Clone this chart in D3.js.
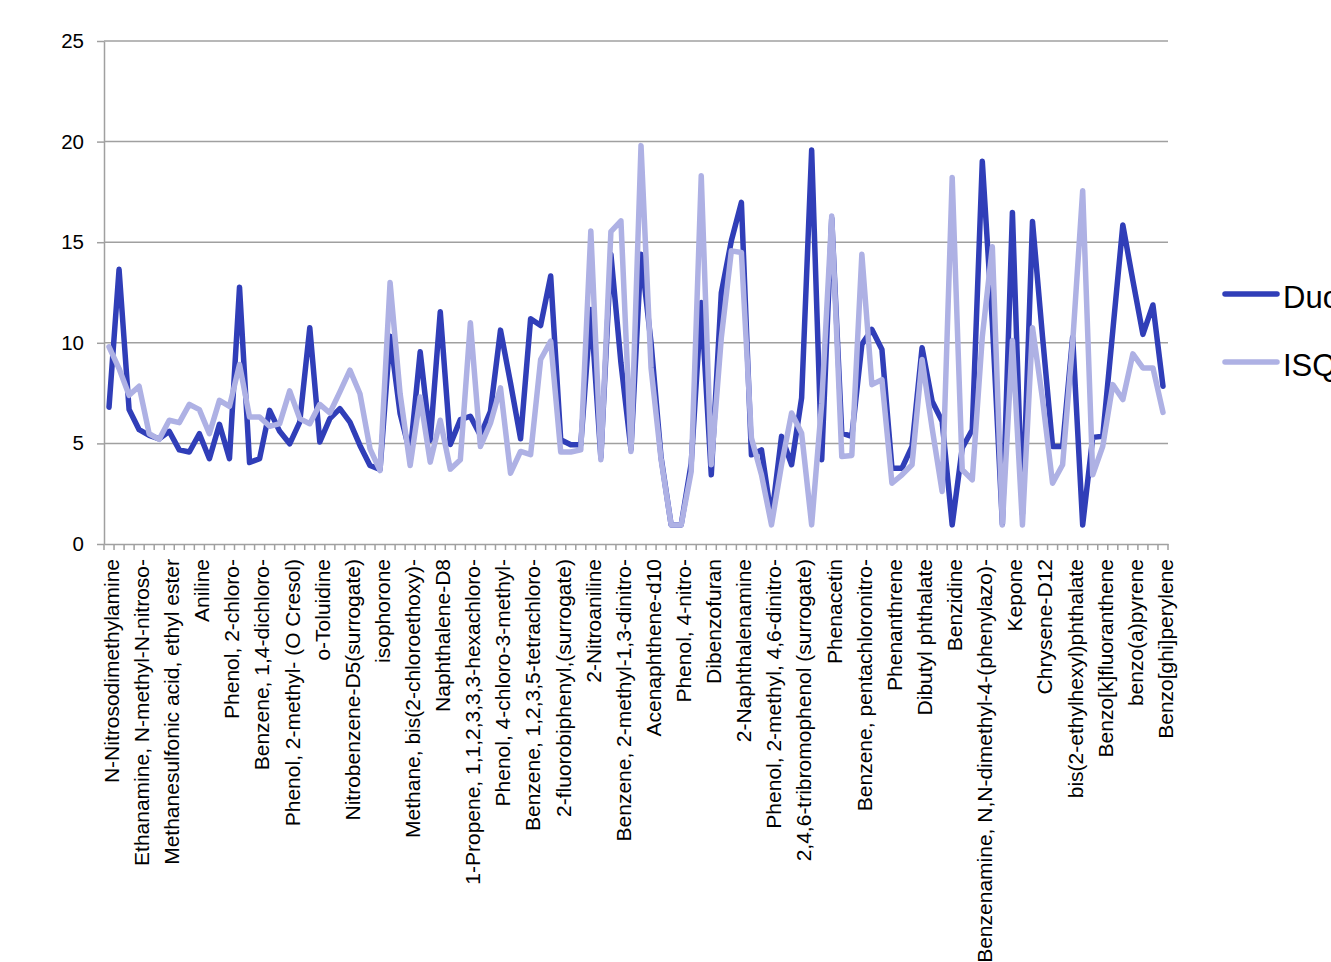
<!DOCTYPE html>
<html>
<head>
<meta charset="utf-8">
<script src="https://cdn.jsdelivr.net/npm/d3@7"></script>
<style>
  body { margin: 0; background: #fff; overflow: hidden; }
  svg { display: block; font-family: "Liberation Sans", Arial, sans-serif; }
</style>
</head>
<body>
<svg width="1331" height="962"></svg>
<script>
// compounds in run order, only every third one gets a label on the axis
var compounds = [
  "N-Nitrosodimethylamine", "Pyridine", "Methanesulfonic acid, methyl ester",
  "Ethanamine, N-methyl-N-nitroso-", "Pyridine, 2-methyl-", "Ethanamine, N-ethyl-N-nitroso-",
  "Methanesulfonic acid, ethyl ester", "Phenol-d6 (surrogate)", "Phenol",
  "Aniline", "Ethane, 1,1'-oxybis[2-chloro-", "2-Fluorophenol (surrogate)",
  "Phenol, 2-chloro-", "Benzene, 1,3-dichloro-", "Benzene-d4, 1,4-dichloro-",
  "Benzene, 1,4-dichloro-", "Benzyl alcohol", "Benzene, 1,2-dichloro-",
  "Phenol, 2-methyl- (O Cresol)", "Propane, 2,2'-oxybis[1-chloro-", "Acetophenone",
  "o-Toluidine", "Phenol, 3-methyl-", "N-Nitrosodi-n-propylamine",
  "Nitrobenzene-D5(surrogate)", "Ethane, hexachloro-", "Benzene, nitro-",
  "isophorone", "Phenol, 2-nitro-", "Phenol, 2,4-dimethyl-",
  "Methane, bis(2-chloroethoxy)-", "Phenol, 2,4-dichloro-", "Benzene, 1,2,4-trichloro-",
  "Naphthalene-D8", "Naphthalene", "Benzenamine, 4-chloro-",
  "1-Propene, 1,1,2,3,3,3-hexachloro-", "1,3-Butadiene, 1,1,2,3,4,4-hexachloro-", "Piperidine, 1-nitroso-",
  "Phenol, 4-chloro-3-methyl-", "Naphthalene, 2-methyl-", "Naphthalene, 1-methyl-",
  "Benzene, 1,2,3,5-tetrachloro-", "Hexachlorocyclopentadiene", "Phenol, 2,4,6-trichloro-",
  "2-fluorobiphenyl,(surrogate)", "Phenol, 2,4,5-trichloro-", "Naphthalene, 2-chloro-",
  "2-Nitroaniline", "Dimethyl phthalate", "Acenaphthylene",
  "Benzene, 2-methyl-1,3-dinitro-", "3-Nitroaniline", "Acenaphthene",
  "Acenaphthene-d10", "Phenol, 2,4-dinitro-", "Pentachlorobenzene",
  "Phenol, 4-nitro-", "Benzene, 1-methyl-2,4-dinitro-", "1-Naphthalenamine",
  "Dibenzofuran", "Phenol, 2,3,4,6-tetrachloro-", "Diethyl phthalate",
  "2-Naphthalenamine", "Fluorene", "4-Nitroaniline",
  "Phenol, 2-methyl, 4,6-dinitro-", "Diphenylamine", "Azobenzene",
  "2,4,6-tribromophenol (surrogate)", "Benzene, 1-bromo-4-phenoxy-", "Benzene, hexachloro-",
  "Phenacetin", "4-Aminobiphenyl", "Phenol, pentachloro-",
  "Benzene, pentachloronitro-", "Pronamide", "Phenanthrene-d10",
  "Phenanthrene", "Anthracene", "Carbazole",
  "Dibutyl phthalate", "Fluoranthene", "Pyrene",
  "Benzidine", "p-Terphenyl-d14 (surrogate)", "Butyl benzyl phthalate",
  "Benzenamine, N,N-dimethyl-4-(phenylazo)-", "3,3'-Dimethylbenzidine", "Benz[a]anthracene",
  "Kepone", "Chrysene", "3,3'-Dichlorobenzidine",
  "Chrysene-D12", "7,12-Dimethylbenz[a]anthracene", "Di-n-octyl phthalate",
  "bis(2-ethylhexyl)phthalate", "Benzo[b]fluoranthene", "3-Methylcholanthrene",
  "Benzo[k]fluoranthene", "Perylene-d12", "Indeno[1,2,3-cd]pyrene",
  "benzo(a)pyrene", "Dibenz[a,h]anthracene", "Dibenz[a,j]acridine",
  "Benzo[ghi]perylene"
];

var duoValues = [
  6.8, 13.65, 6.68, 5.68, 5.40, 5.23, 5.60, 4.68, 4.57, 5.48,
  4.24, 5.95, 4.24, 12.76, 4.05, 4.24, 6.64, 5.60, 4.98, 6.06,
  10.75, 5.07, 6.23, 6.73, 6.06, 4.90, 3.90, 3.70, 10.33, 6.48,
  4.50, 9.55, 5.15, 11.54, 4.95, 6.18, 6.35, 5.40, 6.60, 10.63,
  8.0, 5.23, 11.2, 10.86, 13.32, 5.18, 4.93, 4.93, 11.66, 4.3,
  14.4, 9.0, 4.7, 14.4, 10.0, 4.3, 0.95, 0.95, 4.0, 12.0,
  3.44, 12.49, 15.07, 16.98, 4.43, 4.68, 1.28, 5.35, 3.94, 7.26,
  19.58, 4.19, 16.2, 5.51, 5.35, 9.92, 10.66, 9.67, 3.77, 3.77,
  4.85, 9.75, 7.09, 6.10, 0.95, 4.77, 5.68, 19.02, 11.0, 1.0,
  16.48, 1.5, 16.03, 10.3, 4.85, 4.85, 10.28, 0.95, 5.3, 5.35,
  10.6, 15.85, 13.1, 10.42, 11.88, 7.84
];

var isqValues = [
  9.80, 8.72, 7.39, 7.84, 5.48, 5.20, 6.15, 6.03, 6.94, 6.68,
  5.48, 7.14, 6.84, 8.92, 6.31, 6.31, 5.85, 5.98, 7.61, 6.23,
  5.98, 6.94, 6.51, 7.56, 8.64, 7.47, 4.73, 3.65, 13.0, 7.47,
  3.90, 7.31, 4.07, 6.15, 3.72, 4.19, 11.0, 4.85, 6.0, 7.76,
  3.52, 4.60, 4.44, 9.17, 10.08, 4.57, 4.57, 4.68, 15.56, 4.19,
  15.53, 16.06, 4.6, 19.8, 8.75, 4.19, 0.95, 0.95, 3.6, 18.3,
  3.94, 10.25, 14.57, 14.49, 5.27, 3.44, 0.95, 3.94, 6.51, 5.5,
  0.95, 7.0, 16.3, 4.35, 4.40, 14.40, 7.92, 8.17, 3.02, 3.44,
  3.94, 9.17, 5.76, 2.61, 18.22, 3.69, 3.19, 10.3, 14.77, 0.95,
  10.12, 0.95, 10.75, 7.2, 3.02, 3.94, 10.0, 17.56, 3.44, 4.85,
  7.92, 7.18, 9.45, 8.75, 8.75, 6.54
];

var seriesNames = ["Duo", "ISQ"];
var seriesColors = ["#303eb8", "#aeb1e4"];
var yTicks = [0, 5, 10, 15, 20, 25];

var svg = d3.select("svg");
var plotLeft = 104, plotRight = 1168, plotTop = 41, plotBottom = 544;
var grey = "#a0a0a0";

var xScale = d3.scaleBand().domain(compounds).range([plotLeft, plotRight]);
var yScale = d3.scaleLinear().domain([0, 25]).range([plotBottom, plotTop]);

// horizontal gridlines
svg.append("g").selectAll("line").data(yTicks.filter(d => d > 0)).join("line")
    .attr("x1", plotLeft).attr("x2", plotRight)
    .attr("y1", d => yScale(d)).attr("y2", d => yScale(d))
    .attr("stroke", grey).attr("stroke-width", 1.5);

// y axis
var yAxis = svg.append("g")
    .attr("transform", "translate(" + plotLeft + ",0)")
    .call(d3.axisLeft(yScale).tickValues(yTicks).tickSize(7).tickSizeOuter(0).tickPadding(13));
yAxis.selectAll("path, line").attr("stroke", grey).attr("stroke-width", 1.5);
yAxis.selectAll("text").attr("font-size", 20.5).attr("fill", "#000")
    .attr("font-family", "'Liberation Sans', Arial, sans-serif");

// x axis: labels on every third compound, ticks on category edges
var xAxis = svg.append("g")
    .attr("transform", "translate(0," + plotBottom + ")")
    .call(d3.axisBottom(xScale).tickSize(0).tickSizeOuter(0)
      .tickFormat((d, i) => i % 3 === 0 ? d : ""));
xAxis.select(".domain").attr("stroke", grey).attr("stroke-width", 1.5);
xAxis.selectAll("text")
    .attr("font-size", 21).attr("fill", "#000")
    .attr("font-family", "'Liberation Sans', Arial, sans-serif")
    .attr("text-anchor", "end")
    .attr("transform", "translate(2.5,15) rotate(-90)")
    .attr("x", 0).attr("y", 0).attr("dy", "0.35em");

var edges = compounds.map(d => xScale(d)).concat([plotRight]);
svg.append("g").selectAll("line").data(edges).join("line")
    .attr("x1", d => d).attr("x2", d => d)
    .attr("y1", plotBottom).attr("y2", plotBottom + 6)
    .attr("stroke", grey).attr("stroke-width", 1.5);

// lines
var line = d3.line()
    .x((d, i) => xScale(compounds[i]) + xScale.bandwidth() / 2)
    .y(d => yScale(d));

[duoValues, isqValues].forEach(function(values, k) {
  svg.append("path")
      .datum(values)
      .attr("fill", "none")
      .attr("stroke", seriesColors[k])
      .attr("stroke-width", 5.5)
      .attr("stroke-linejoin", "round")
      .attr("stroke-linecap", "round")
      .attr("d", line);
});

// legend
var legend = svg.append("g").selectAll("g").data(seriesNames).join("g")
    .attr("transform", (d, i) => "translate(1225," + (294 + i * 68) + ")");
legend.append("line")
    .attr("x1", 0).attr("x2", 52)
    .attr("stroke", (d, i) => seriesColors[i])
    .attr("stroke-width", 5.5)
    .attr("stroke-linecap", "round");
legend.append("text")
    .attr("x", 58).attr("y", 14)
    .attr("font-size", 31)
    .attr("fill", "#000")
    .text(d => d);
</script>
</body>
</html>
